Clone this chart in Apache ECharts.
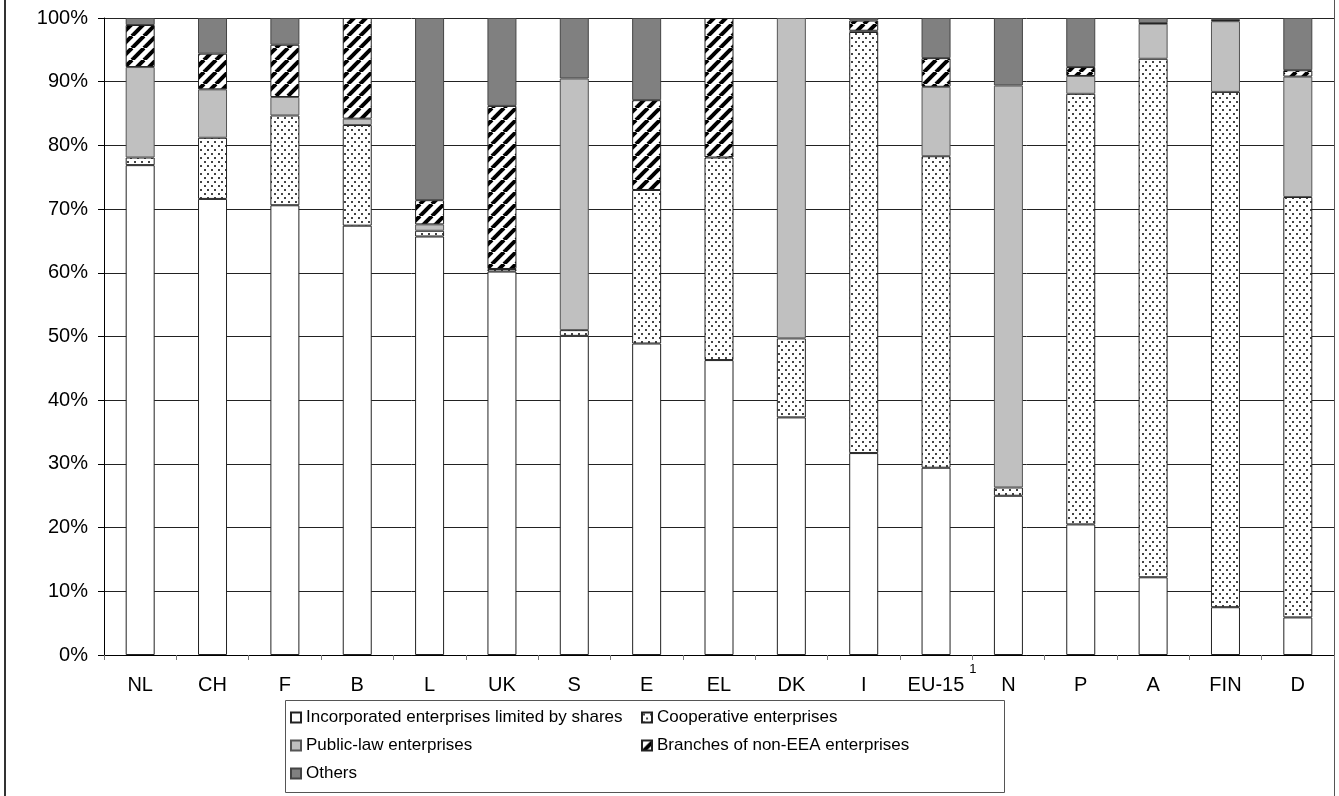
<!DOCTYPE html>
<html>
<head>
<meta charset="utf-8">
<script src="https://cdn.jsdelivr.net/npm/echarts/dist/echarts.min.js"></script>
<style>
  html, body { margin: 0; padding: 0; background: #fff; }
  #chart { width: 1339px; height: 796px; }
</style>
</head>
<body>
<div id="chart"></div>
<script>
// categories and shares (%)
const categories = ['NL', 'CH', 'F', 'B', 'L', 'UK', 'S', 'E', 'EL', 'DK', 'I', 'EU-15', 'N', 'P', 'A', 'FIN', 'D']
const incorporated = [76.9, 71.6, 70.6, 67.4, 65.7, 60.2, 50.1, 48.9, 46.3, 37.3, 31.7, 29.4, 25.0, 20.5, 12.2, 7.5, 5.9]
const cooperative = [1.2, 9.6, 14.1, 15.8, 0.9, 0.4, 0.9, 24.1, 31.8, 12.4, 66.1, 48.9, 1.3, 67.6, 81.4, 80.9, 66.0]
const publicLaw = [14.2, 7.6, 2.9, 1.0, 1.0, 0, 39.5, 0, 0, 50.3, 0.2, 10.9, 63.1, 2.8, 5.5, 11.1, 18.9]
const branches = [6.6, 5.6, 8.2, 15.8, 3.8, 25.6, 0, 14.1, 21.9, 0, 1.6, 4.5, 0, 1.4, 0.1, 0.2, 1.0]
const others = [1.1, 5.6, 4.2, 0, 28.6, 13.8, 9.5, 12.9, 0, 0, 0.4, 6.3, 10.6, 7.7, 0.8, 0.3, 8.2]
const yTicks = [0, 10, 20, 30, 40, 50, 60, 70, 80, 90, 100]

const FONT = '"Liberation Sans", Arial, sans-serif'

// fill patterns
const makeDots = () => {
  const c = document.createElement('canvas')
  c.width = 7
  c.height = 8
  const ctx = c.getContext('2d')
  ctx.fillStyle = '#fff'
  ctx.fillRect(0, 0, 7, 8)
  ctx.fillStyle = '#444'
  ctx.fillRect(1, 1, 2, 2)
  ctx.fillRect(4, 5, 2, 2)
  return c
}

const makeStripes = () => {
  const s = 12
  const c = document.createElement('canvas')
  c.width = s
  c.height = s
  const ctx = c.getContext('2d')
  ctx.fillStyle = '#fff'
  ctx.fillRect(0, 0, s, s)
  ctx.strokeStyle = '#000'
  ctx.lineWidth = 4
  for (const o of [-s, 0, s]) {
    ctx.beginPath()
    ctx.moveTo(o, s)
    ctx.lineTo(o + s, 0)
    ctx.stroke()
  }
  return c
}

const bar = (name, values, color, border) => ({
  name: name,
  type: 'bar',
  stack: 'total',
  barWidth: 29,
  data: values.map((v) => (v === 0 ? '-' : v)),
  itemStyle: {color: color, borderColor: border, borderWidth: 1},
  emphasis: {disabled: true},
})

const chart = echarts.init(document.getElementById('chart'))

const legendBase = {
  orient: 'vertical',
  top: 709,
  padding: 0,
  icon: 'rect',
  itemWidth: 10,
  itemHeight: 10,
  itemGap: 11,
  itemTextGap: 5,
  selectedMode: false,
  textStyle: {fontSize: 17, color: '#000', fontFamily: FONT},
}

const option = {
  animation: false,
  backgroundColor: '#fff',
  grid: {left: 104, right: 5, top: 18, bottom: 141, containLabel: false, outerBoundsMode: 'none'},
  legend: [
    Object.assign({}, legendBase, {
      left: 290,
      data: ['Incorporated enterprises limited by shares', 'Public-law enterprises', 'Others'],
    }),
    Object.assign({}, legendBase, {
      left: 641,
      data: ['Cooperative enterprises', 'Branches of non-EEA enterprises'],
    }),
  ],
  xAxis: {
    type: 'category',
    data: categories,
    axisLine: {show: true, lineStyle: {color: '#000', width: 1}},
    axisTick: {show: true, length: 5, lineStyle: {color: '#777'}},
    axisLabel: {
      interval: 0,
      margin: 8,
      formatter: (v) => (v === 'EU-15' ? '{p|}{e|EU-15}{s|1}' : '{e|' + v + '}'),
      rich: {
        e: {fontSize: 20, lineHeight: 44, color: '#000', fontFamily: FONT},
        p: {width: 12},
        s: {fontSize: 13, color: '#000', fontFamily: FONT, verticalAlign: 'top', lineHeight: 13, padding: [0, 0, 0, 5]},
      },
    },
    splitLine: {show: false},
  },
  yAxis: {
    type: 'value',
    min: yTicks[0],
    max: yTicks[yTicks.length - 1],
    interval: 10,
    axisLine: {show: true, lineStyle: {color: '#000', width: 1}},
    axisTick: {show: true, length: 6, lineStyle: {color: '#000'}},
    axisLabel: {formatter: '{value}%', fontSize: 20, color: '#000', margin: 16, fontFamily: FONT},
    splitLine: {show: true, lineStyle: {color: '#222', width: 1}},
  },
  series: [
    bar('Incorporated enterprises limited by shares', incorporated, '#fff', '#222'),
    bar('Cooperative enterprises', cooperative, {image: makeDots(), repeat: 'repeat'}, '#222'),
    bar('Public-law enterprises', publicLaw, '#c0c0c0', '#555'),
    bar('Branches of non-EEA enterprises', branches, {image: makeStripes(), repeat: 'repeat'}, '#222'),
    bar('Others', others, '#808080', '#444'),
  ],
  graphic: [
    {type: 'rect', left: 283, top: 698, shape: {width: 719, height: 92}, style: {fill: 'none', stroke: '#555', lineWidth: 1}},
    {type: 'line', shape: {x1: 5, y1: 0, x2: 5, y2: 796}, style: {stroke: '#333', lineWidth: 2}},
    {type: 'line', shape: {x1: 1334.5, y1: 0, x2: 1334.5, y2: 796}, style: {stroke: '#555', lineWidth: 1}},
  ],
}

chart.setOption(option)
</script>
</body>
</html>
